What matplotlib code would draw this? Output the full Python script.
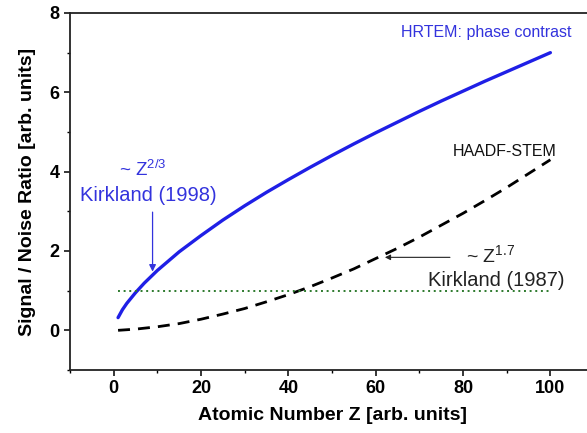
import numpy as np
import matplotlib.pyplot as plt

plt.rcParams['font.family'] = ['Liberation Sans', 'DejaVu Sans']
plt.rcParams['mathtext.fontset'] = 'custom'
plt.rcParams['mathtext.rm'] = 'Liberation Sans'
plt.rcParams['mathtext.it'] = 'Liberation Sans'

# Signal/noise estimates vs atomic number
Z_hrtem = [1, 2, 3, 5, 7, 10, 15, 20, 25, 30, 35, 40, 45, 50, 55, 60,
           65, 70, 75, 80, 85, 90, 95, 100]
snr_hrtem = [0.32, 0.52, 0.68, 0.95, 1.19, 1.51, 1.98, 2.39, 2.78, 3.14,
             3.48, 3.80, 4.11, 4.41, 4.70, 4.98, 5.25, 5.52, 5.78, 6.03,
             6.28, 6.52, 6.76, 7.0]
Z_haadf = [1, 5, 10, 15, 20, 25, 30, 35, 40, 45, 50, 55, 60, 65, 70, 75,
           80, 85, 90, 95, 100]
snr_haadf = [0.0, 0.03, 0.09, 0.17, 0.28, 0.41, 0.55, 0.72, 0.90, 1.10,
             1.32, 1.55, 1.81, 2.07, 2.35, 2.65, 2.95, 3.27, 3.60, 3.95, 4.3]
threshold_z = [1, 100]
threshold = [1, 1]

x_ticks = [0, 20, 40, 60, 80, 100]
y_ticks = [0, 2, 4, 6, 8]

fig = plt.figure(figsize=(5.87, 4.33), dpi=100)
ax = fig.add_axes([0.1193, 0.1455, 0.8927, 0.8245])

ax.plot(Z_hrtem, snr_hrtem, color='#1f1fe6', lw=2.4, solid_capstyle='round')
ax.plot(Z_haadf, snr_haadf, color='black', lw=2.0, dashes=(4.3, 2.9))
ax.plot(threshold_z, threshold, color='#2d7a2d', lw=1.4, dashes=(1.0, 1.9))

ax.set_xlim(-10, 110)
ax.set_ylim(-1, 8)
ax.set_xticks(x_ticks)
ax.set_yticks(y_ticks)
ax.set_xticks(np.arange(-10, 111, 20), minor=True)
ax.set_yticks(np.arange(-1, 8, 2), minor=True)
ax.tick_params(which='major', direction='out', length=4, width=1.1, labelsize=13)
ax.tick_params(which='minor', direction='out', length=2.5, width=1.0)
for lab in ax.get_xticklabels() + ax.get_yticklabels():
    lab.set_fontweight('bold')
for sp in ax.spines.values():
    sp.set_linewidth(1.3)
    sp.set_color('#222222')

ax.set_xlabel('Atomic Number Z [arb. units]', fontsize=14, fontweight='bold', labelpad=7)
ax.set_ylabel('Signal / Noise Ratio [arb. units]', fontsize=14, fontweight='bold', labelpad=10)

blue = '#3333dd'
ax.text(104.9, 7.5, 'HRTEM: phase contrast', color=blue, fontsize=11.5,
        ha='right', va='center')
ax.text(89.6, 4.5, 'HAADF-STEM', color='#111111', fontsize=11.5,
        ha='center', va='center')
ax.text(6.6, 4.05, r'~ Z$^{\mathregular{2/3}}$', color=blue, fontsize=13.5,
        ha='center', va='center')
ax.text(8.0, 3.41, 'Kirkland (1998)', color=blue, fontsize=14.5,
        ha='center', va='center')
ax.annotate('', xy=(8.9, 1.48), xytext=(8.9, 2.98),
            arrowprops=dict(arrowstyle='-|>', color=blue, lw=0.9,
                            mutation_scale=10, shrinkA=0, shrinkB=0))
ax.text(86.4, 1.9, r'~ Z$^{\mathregular{1.7}}$', color='#222222', fontsize=14,
        ha='center', va='center')
ax.text(87.5, 1.26, 'Kirkland (1987)', color='#222222', fontsize=14.5,
        ha='center', va='center')
ax.annotate('', xy=(62.1, 1.84), xytext=(77.0, 1.84),
            arrowprops=dict(arrowstyle='-|>', color='#222222', lw=0.8,
                            mutation_scale=8, shrinkA=0, shrinkB=0))

fig.savefig('out.png', dpi=100)
